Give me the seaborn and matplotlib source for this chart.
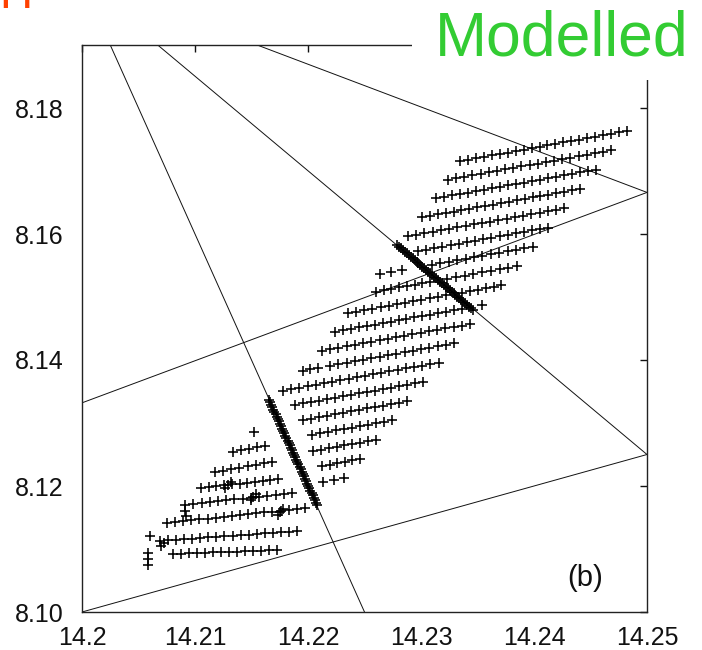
import numpy as np
import pandas as pd
import matplotlib
matplotlib.use("Agg")
import matplotlib.pyplot as plt
from matplotlib.patches import Rectangle
import seaborn as sns

# Rows of the parameter grid: start (x, y), end (x, y) and number of points per row
seg_x0 = [14.23345, 14.23239, 14.23133, 14.23009, 14.22885, 14.22973,
          14.22637, 14.23097, 14.22602, 14.23230, 14.22354, 14.23363,
          14.22239, 14.23540, 14.22124, 14.21956, 14.22195, 14.21779,
          14.21885, 14.21956, 14.22035, 14.22044, 14.22124, 14.22133,
          14.21336, 14.21177, 14.21053, 14.20912, 14.20752, 14.20690, 14.20805]
seg_y0 = [8.17157, 8.16862, 8.16567, 8.16265, 8.15963, 8.15730,
          8.15360, 8.15508, 8.15087, 8.15290, 8.14746, 8.15071,
          8.14448, 8.14867, 8.14149, 8.13833, 8.13911, 8.13514,
          8.13287, 8.13048, 8.12813, 8.12554, 8.12317, 8.12059,
          8.12540, 8.12222, 8.11968, 8.11698, 8.11413, 8.11127, 8.10921]
seg_x1 = [14.24823, 14.24684, 14.24545, 14.24406, 14.24267, 14.24128,
          14.22832, 14.23989, 14.23080, 14.23850, 14.23221, 14.23712,
          14.23363, 14.23573, 14.23434, 14.22088, 14.23295, 14.23156,
          14.23017, 14.22878, 14.22739, 14.22600, 14.22461, 14.22322,
          14.21619, 14.21681, 14.21735, 14.21858, 14.21973, 14.21903, 14.21726]
seg_y1 = [8.17635, 8.17329, 8.17022, 8.16716, 8.16410, 8.16103,
          8.15424, 8.15797, 8.15241, 8.15490, 8.15025, 8.15184,
          8.14811, 8.14878, 8.14571, 8.13876, 8.14265, 8.13959,
          8.13652, 8.13346, 8.13040, 8.12733, 8.12427, 8.12121,
          8.12635, 8.12381, 8.12111, 8.11889, 8.11651, 8.11286, 8.10984]
seg_n = [22, 21, 21, 21, 20, 17,
         3, 13, 8, 9, 13, 6,
         17, 1, 19, 3, 16, 20,
         17, 14, 11, 9, 6, 3,
         5, 8, 11, 14, 18, 18, 14]

# Dense bands of solutions lying along two of the constraint lines
band_x0 = [14.21655, 14.22788]
band_y0 = [8.13365, 8.15825]
band_x1 = [14.22080, 14.23460]
band_y1 = [8.11698, 8.14794]
band_n = [45, 40]

# Isolated and overlapping points
extra_x = [14.21522, 14.20602, 14.20584, 14.20584, 14.20584,
           14.21292, 14.21319, 14.21265, 14.21513, 14.21540, 14.21496,
           14.21752, 14.21779, 14.21735, 14.20699, 14.20726,
           14.20912, 14.20920]
extra_y = [8.12857, 8.11206, 8.10937, 8.10841, 8.10746,
           8.12016, 8.12063, 8.11968, 8.11825, 8.11873, 8.11778,
           8.11587, 8.11635, 8.11540, 8.11048, 8.11095,
           8.11603, 8.11524]

# Straight constraint lines: (x0, y0) -> (x1, y1)
line_x0 = [14.2025, 14.2067, 14.2155, 14.2000, 14.2000]
line_y0 = [8.1900, 8.1900, 8.1900, 8.1332, 8.1000]
line_x1 = [14.2250, 14.2500, 14.2500, 14.2500, 14.2500]
line_y1 = [8.1000, 8.1250, 8.1666, 8.1666, 8.1250]

x_ticks = [14.20, 14.21, 14.22, 14.23, 14.24, 14.25]
x_tick_labels = ["14.2", "14.21", "14.22", "14.23", "14.24", "14.25"]
y_ticks = [8.10, 8.12, 8.14, 8.16, 8.18]
y_tick_labels = ["8.10", "8.12", "8.14", "8.16", "8.18"]

# Expand rows and bands into individual points
px, py = [], []
for a, b, c, d, n in zip(seg_x0, seg_y0, seg_x1, seg_y1, seg_n):
    px.append(np.linspace(a, c, n))
    py.append(np.linspace(b, d, n))
for a, b, c, d, n in zip(band_x0, band_y0, band_x1, band_y1, band_n):
    px.append(np.linspace(a, c, n))
    py.append(np.linspace(b, d, n))
px.append(np.array(extra_x))
py.append(np.array(extra_y))
points = pd.DataFrame({"x": np.concatenate(px), "y": np.concatenate(py)})

sns.set_style("white")
plt.rcParams["font.family"] = ["Liberation Sans", "DejaVu Sans"]

fig = plt.figure(figsize=(7.02, 6.50), dpi=100)
ax = fig.add_axes([82 / 702, 38 / 650, 565 / 702, 567 / 650])

for a, b, c, d in zip(line_x0, line_y0, line_x1, line_y1):
    ax.plot([a, c], [b, d], color="#111111", lw=0.7, zorder=2)

sns.scatterplot(data=points, x="x", y="y", marker="+", color="black",
                s=58, linewidth=1.15, ax=ax, legend=False, zorder=3)

ax.set_xlim(14.2, 14.25)
ax.set_ylim(8.10, 8.19)
ax.set_xticks(x_ticks)
ax.set_xticklabels(x_tick_labels)
ax.set_yticks(y_ticks)
ax.set_yticklabels(y_tick_labels)
ax.set_xlabel("")
ax.set_ylabel("")
ax.tick_params(axis="both", direction="in", length=5, width=1.0,
               top=True, right=True, labelsize=18, colors="#111111")
ax.tick_params(axis="x", pad=10)
ax.tick_params(axis="y", pad=13)
for sp in ax.spines.values():
    sp.set_visible(True)
    sp.set_color("#222222")
    sp.set_linewidth(1.0)

ax.text(0.89, 0.06, "(b)", transform=ax.transAxes, ha="center", va="center",
        fontsize=21, color="#111111")

# Title banner over the top-right corner
fig.add_artist(Rectangle((412 / 702, 1 - 80 / 650), 1, 80 / 650,
                         transform=fig.transFigure, facecolor="white",
                         edgecolor="none", zorder=5))
fig.text(435 / 702, 1 - 55 / 650, "Modelled", color="#33cc33", fontsize=45,
         ha="left", va="baseline", zorder=6)
fig.text(-1 / 702, 1 - 8 / 650, "H", color="#ff4000", fontsize=33,
         ha="left", va="baseline", zorder=6)

fig.savefig("out.png", dpi=100)
